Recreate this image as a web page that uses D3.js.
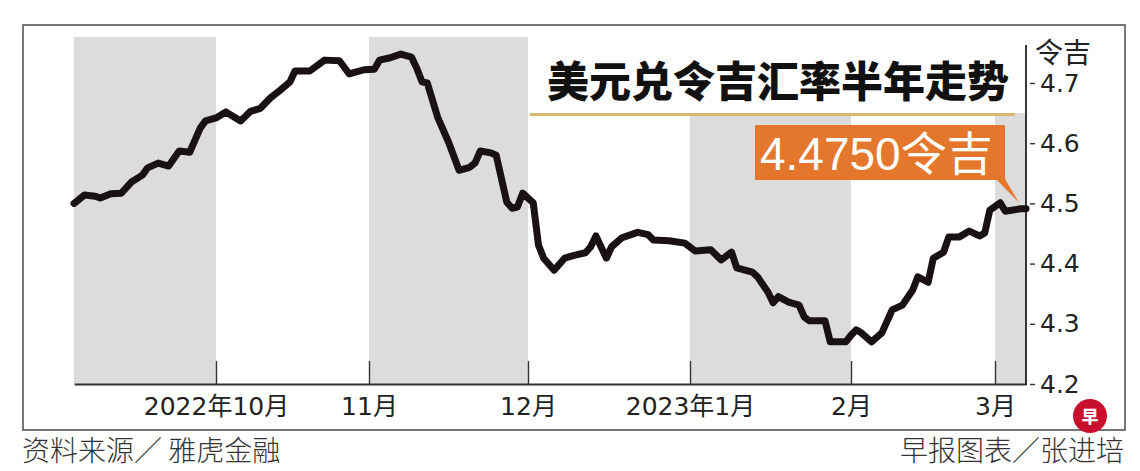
<!DOCTYPE html>
<html><head><meta charset="utf-8">
<script src="https://cdn.jsdelivr.net/npm/d3@7"></script>
<style>body{margin:0;background:#fff} svg{display:block}</style>
</head><body>
<svg id="c" width="1140" height="471"></svg>
<script>
// ---- data ----
const dates = ["2022-09-04","2022-09-06","2022-09-08","2022-09-09","2022-09-11","2022-09-13","2022-09-15","2022-09-17","2022-09-18","2022-09-20","2022-09-22","2022-09-24","2022-09-26","2022-09-28","2022-09-29","2022-10-01",
"2022-10-03","2022-10-06","2022-10-08","2022-10-10","2022-10-12","2022-10-14","2022-10-16","2022-10-17","2022-10-20","2022-10-23","2022-10-26","2022-10-28","2022-10-31",
"2022-11-02","2022-11-03","2022-11-05","2022-11-07","2022-11-09","2022-11-10","2022-11-11","2022-11-12","2022-11-14","2022-11-16","2022-11-18","2022-11-20","2022-11-21","2022-11-22","2022-11-24","2022-11-25","2022-11-27","2022-11-28","2022-11-29","2022-11-30",
"2022-12-02","2022-12-03","2022-12-04","2022-12-06","2022-12-08","2022-12-10","2022-12-12","2022-12-13","2022-12-14","2022-12-16","2022-12-17","2022-12-19","2022-12-21","2022-12-22","2022-12-24","2022-12-25","2022-12-28","2022-12-31",
"2023-01-02","2023-01-05","2023-01-07","2023-01-09","2023-01-10","2023-01-13","2023-01-14","2023-01-16","2023-01-17","2023-01-18","2023-01-20","2023-01-22","2023-01-23","2023-01-24","2023-01-27","2023-01-28","2023-01-31",
"2023-02-01","2023-02-02","2023-02-03","2023-02-05","2023-02-07","2023-02-09","2023-02-11","2023-02-13","2023-02-14","2023-02-16","2023-02-17","2023-02-19","2023-02-20","2023-02-22","2023-02-24","2023-02-26","2023-02-27","2023-02-28",
"2023-03-02","2023-03-03","2023-03-06","2023-03-07"];
const values = [4.500,4.514,4.512,4.509,4.516,4.517,4.536,4.547,4.559,4.567,4.562,4.587,4.585,4.625,4.637,4.642,
4.652,4.637,4.653,4.658,4.675,4.688,4.702,4.720,4.720,4.738,4.737,4.715,4.722,
4.723,4.738,4.742,4.748,4.743,4.725,4.702,4.700,4.642,4.602,4.555,4.560,4.567,4.587,4.584,4.580,4.502,4.492,4.494,4.517,
4.501,4.431,4.409,4.389,4.409,4.414,4.418,4.428,4.446,4.409,4.428,4.443,4.449,4.452,4.448,4.439,4.438,4.434,
4.421,4.423,4.406,4.419,4.393,4.386,4.378,4.353,4.335,4.345,4.336,4.331,4.311,4.305,4.305,4.270,4.270,
4.281,4.290,4.285,4.270,4.285,4.323,4.331,4.356,4.378,4.369,4.409,4.419,4.444,4.444,4.454,4.446,4.451,4.489,
4.501,4.487,4.491,4.491];
const yTicks = [4.2, 4.3, 4.4, 4.5, 4.6, 4.7];
const yTickLabels = ["4.2","4.3","4.4","4.5","4.6","4.7"];
const monthTicks = ["2022-10-01","2022-11-01","2022-12-01","2023-01-01","2023-02-01","2023-03-01"];
const monthLabels = ["2022年10月","11月","12月","2023年1月","2月","3月"];
const bandStarts = ["2022-09-04","2022-11-01","2023-01-01","2023-03-01"];
const bandEnds = ["2022-10-01","2022-12-01","2023-02-01","2023-03-07"];
const title = "美元兑令吉汇率半年走势";
const calloutText = "4.4750令吉";
const unitText = "令吉";
const sourceText = "资料来源／ 雅虎金融";
const creditText = "早报图表／张进培";
const logoText = "早";

// ---- chart ----
const parse = d3.timeParse("%Y-%m-%d");
const svg = d3.select("#c");
const data = dates.map((d, i) => ({ date: parse(d), value: values[i] }));

const x = d3.scaleTime()
  .domain(["2022-09-04","2022-10-01","2022-11-01","2022-12-01","2023-01-01","2023-02-01","2023-03-01","2023-03-07"].map(parse))
  .range([74, 216, 369, 528, 690, 851, 995, 1026]);
const y = d3.scaleLinear().domain([4.2, 4.7]).range([384, 83]);

// outer frame
svg.append("rect").attr("x", 23).attr("y", 25).attr("width", 1102).attr("height", 405)
  .attr("fill", "none").attr("stroke", "#555").attr("stroke-width", 1.6);

// bands
svg.append("g").selectAll("rect").data(bandStarts).join("rect")
  .attr("x", (d) => x(parse(d)))
  .attr("width", (d, i) => x(parse(bandEnds[i])) - x(parse(d)))
  .attr("y", 37).attr("height", 384 - 37)
  .attr("fill", "#dcdcdc");

// title box
svg.append("rect").attr("x", 528).attr("y", 36).attr("width", 498).attr("height", 77).attr("fill", "#fff");
svg.append("line").attr("x1", 530).attr("x2", 1015).attr("y1", 114.5).attr("y2", 114.5)
  .attr("stroke", "#d8b86e").attr("stroke-width", 3);
svg.append("text").attr("x", 778).attr("y", 78).attr("text-anchor", "middle")
  .attr("dominant-baseline", "central")
  .attr("font-family", "'Noto Sans CJK SC', sans-serif").attr("font-weight", 900)
  .attr("font-size", 42).attr("fill", "#111").text(title);

// x axis
const xAxis = d3.axisBottom(x)
  .tickValues(monthTicks.map(parse))
  .tickFormat((d, i) => monthLabels[i])
  .tickSize(-23).tickSizeOuter(0).tickPadding(13);
const gx = svg.append("g").attr("transform", "translate(0,384)").call(xAxis);
gx.select(".domain").attr("stroke", "#333").attr("stroke-width", 1.8);
gx.selectAll(".tick line").attr("stroke", "#333").attr("stroke-width", 1.4);
gx.selectAll(".tick text").attr("font-family", "'DejaVu Sans', 'Noto Sans CJK SC', sans-serif")
  .attr("font-size", 25).attr("fill", "#222");

// y axis
const yAxis = d3.axisRight(y).tickValues(yTicks).tickFormat((d, i) => yTickLabels[i])
  .tickSize(9).tickPadding(5);
const gy = svg.append("g").attr("transform", "translate(1026,0)").call(yAxis);
gy.select(".domain").remove();
gy.append("line").attr("x1", 0).attr("x2", 0).attr("y1", 45).attr("y2", 385)
  .attr("stroke", "#222").attr("stroke-width", 1.8);
gy.selectAll(".tick line").attr("x1", 4).attr("stroke", "#333").attr("stroke-width", 1.4);
gy.selectAll(".tick text").attr("font-family", "'DejaVu Sans', sans-serif")
  .attr("font-size", 25).attr("fill", "#222");
svg.append("text").attr("x", 1035).attr("y", 51).attr("dominant-baseline", "central")
  .attr("font-family", "'Noto Sans CJK SC', sans-serif").attr("font-size", 28).attr("fill", "#222")
  .text(unitText);

// line
const line = d3.line().x((d) => x(d.date)).y((d) => y(d.value));
svg.append("path").datum(data).attr("d", line)
  .attr("fill", "none").attr("stroke", "#1a1212").attr("stroke-width", 7)
  .attr("stroke-linejoin", "round").attr("stroke-linecap", "round");

// callout
const last = data[data.length - 1];
svg.append("rect").attr("x", 755).attr("y", 125).attr("width", 250).attr("height", 55).attr("fill", "#e5772c");
svg.append("path")
  .attr("d", `M996,179 L1005,179 L${x(last.date) - 7},${y(last.value) - 6} Z`)
  .attr("fill", "#e5772c");
svg.append("text").attr("x", 760).attr("y", 170)
  .attr("font-family", "'Liberation Sans', 'Noto Sans CJK SC', sans-serif")
  .attr("font-size", 46).attr("fill", "#fff").text(calloutText);

// footer
svg.append("text").attr("x", 22).attr("y", 461)
  .attr("font-family", "'Noto Sans CJK SC', sans-serif").attr("font-weight", 300)
  .attr("font-size", 28).attr("fill", "#333").text(sourceText);
svg.append("text").attr("x", 1124).attr("y", 461).attr("text-anchor", "end")
  .attr("font-family", "'Noto Sans CJK SC', sans-serif").attr("font-weight", 300)
  .attr("font-size", 28).attr("fill", "#333").text(creditText);

// logo
svg.append("circle").attr("cx", 1090).attr("cy", 416).attr("r", 17).attr("fill", "#c8102e");
svg.append("text").attr("x", 1090).attr("y", 415).attr("text-anchor", "middle")
  .attr("dominant-baseline", "central")
  .attr("font-family", "'Noto Sans CJK SC', sans-serif").attr("font-weight", 900)
  .attr("font-size", 17).attr("fill", "#fff").text(logoText);
</script>
</body></html>
